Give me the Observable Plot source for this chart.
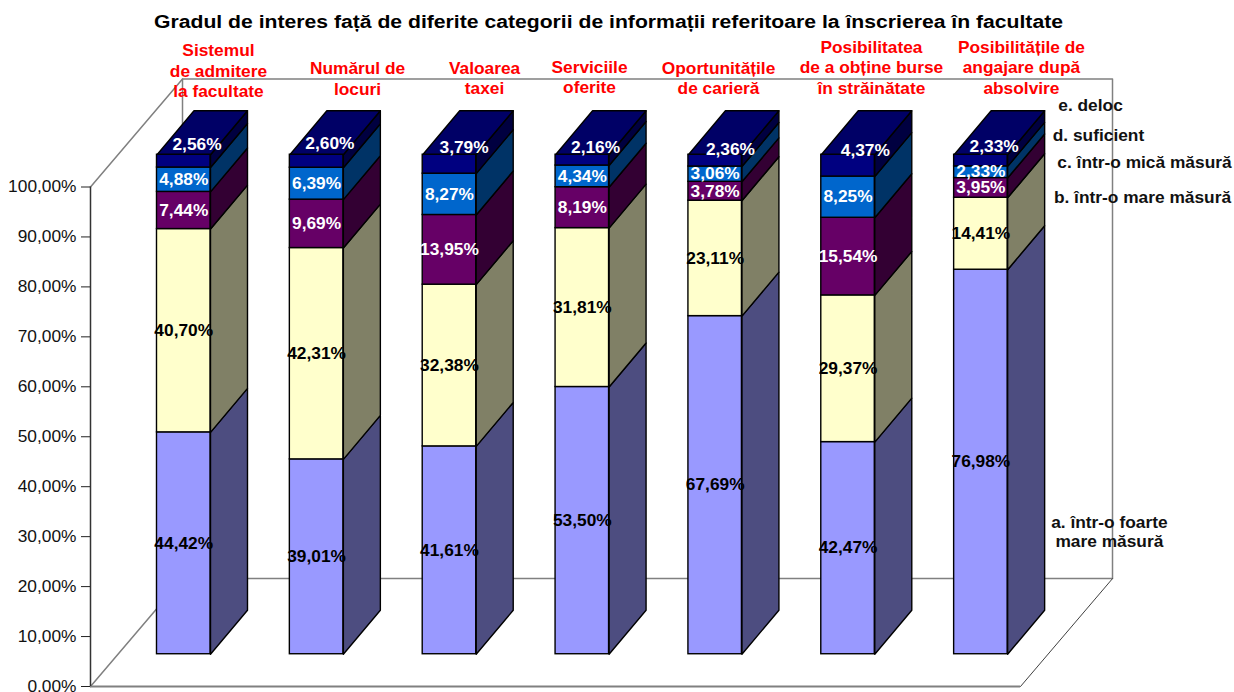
<!DOCTYPE html>
<html lang="ro">
<head>
<meta charset="utf-8">
<script src="https://cdn.jsdelivr.net/npm/d3@7"></script>
<script src="https://cdn.jsdelivr.net/npm/@observablehq/plot@0.6"></script>
<style>
html,body{margin:0;padding:0;background:#fff;overflow:hidden;width:1234px;height:692px}
#title{height:34px;font:bold 17.5px "Liberation Sans",Arial,sans-serif;color:#000;white-space:nowrap;box-sizing:border-box;padding-top:12px;padding-left:154px}
#title span{display:inline-block;transform-origin:left center}
#chart svg{display:block;overflow:visible}
</style>
</head>
<body>
<div id="title"><span>Gradul de interes față de diferite categorii de informații referitoare la înscrierea în facultate</span></div>
<div id="chart"></div>
<script>
const categories = ["Sistemul\nde admitere\nla facultate","Numărul de\nlocuri","Valoarea\ntaxei","Serviciile\noferite","Oportunitățile\nde carieră","Posibilitatea\nde a obține burse\nîn străinătate","Posibilitățile de\nangajare după\nabsolvire"];
const seriesNames = ["a. într-o foarte\nmare măsură","b. într-o mare măsură","c. într-o mică măsură","d. suficient","e. deloc"];
const seriesA = [44.42,39.01,41.61,53.50,67.69,42.47,76.98];
const seriesB = [40.70,42.31,32.38,31.81,23.11,29.37,14.41];
const seriesC = [7.44,9.69,13.95,8.19,3.78,15.54,3.95];
const seriesD = [4.88,6.39,8.27,4.34,3.06,8.25,2.33];
const seriesE = [2.56,2.60,3.79,2.16,2.36,4.37,2.33];
const tickValues = [0,10,20,30,40,50,60,70,80,90,100];

const series = [seriesA,seriesB,seriesC,seriesD,seriesE];
const frontColors = ["#9999FF","#FFFFCC","#660066","#0066CC","#000080"];
const sideColors  = ["#4D4D80","#808066","#330033","#003366","#000040"];
const topColor = "#000066";
const labelColors = ["#000","#000","#fff","#fff","#fff"];
const comma = v => v.toFixed(2).replace(".",",")+"%";

// oblique layout in scale units: x in category slots, y in percent
const barLeft=.5005, barWidth=.4027, barDx=.2785, barDy=8.8, frontLift=6.46, wallDx=.6925, wallDy=21.6;
// the "e. deloc" value labels sit on the bar tops, moved by hand in the original
const topNudgeX=[.1,.1,.11,.1,.115,.13,.1];
const topNudgeY=[3.2,3.6,3.2,2.4,2.2,3,2.8];

const fronts=[], polys=[], labels=[];
categories.forEach((c,i)=>{
  let base=0;
  const x1=i+barLeft, x2=x1+barWidth;
  series.forEach((s,k)=>{
    const v=s[i], top=base+v, y1=base+frontLift, y2=top+frontLift;
    fronts.push({x1,x2,y1,y2,fill:frontColors[k]});
    const id=`s${i}-${k}`;
    [[x2,y1],[x2+barDx,y1+barDy],[x2+barDx,y2+barDy],[x2,y2]].forEach(([x,y])=>polys.push({id,x,y,fill:sideColors[k]}));
    const isTop=k===4;
    labels.push({x:(x1+x2)/2+(isTop?topNudgeX[i]:0),y:(base+top)/2+frontLift+(isTop?topNudgeY[i]:0),text:comma(v),fill:labelColors[k]});
    base=top;
  });
  const t=100+frontLift, id=`t${i}`;
  [[x1,t],[x2,t],[x2+barDx,t+barDy],[x1+barDx,t+barDy]].forEach(([x,y])=>polys.push({id,x,y,fill:topColor}));
});

// walls of the chart box
const n=categories.length;
const backWall=[[wallDx,wallDy],[wallDx,100+wallDy],[n+wallDx,100+wallDy],[n+wallDx,wallDy]].map(([x,y])=>({x,y}));
const leftTop=[[0,100],[wallDx,100+wallDy]].map(([x,y])=>({x,y}));
const leftFloor=[[0,0],[wallDx,wallDy]].map(([x,y])=>({x,y}));
const rightFloor=[[n,0],[n+wallDx,wallDy]].map(([x,y])=>({x,y}));

// text placed by hand in the original
const catX=[.963,2.01,2.966,3.756,4.727,5.878,7.007];
const catY=[123.4,121.8,121.9,122.1,121.9,124.1,124.1];
const catLabels=categories.map((text,i)=>({text,x:catX[i],y:catY[i]}));
const serX=[7.669,7.918,7.933,7.587,7.527];
const serY=[31.1,98,105,110.4,116.4];
const serLabels=seriesNames.map((text,k)=>({text,x:serX[k],y:serY[k]}));

const plot=Plot.plot({
  width:1234,height:658,
  marginLeft:90,marginRight:214,marginTop:152.5,marginBottom:6,
  style:{background:"#fff",fontFamily:'"Liberation Sans",Arial,sans-serif',overflow:"visible"},
  x:{domain:[0,n],axis:null},
  y:{domain:[0,100],axis:null},
  color:{type:"identity"},
  marks:[
    Plot.line(backWall,{x:"x",y:"y",stroke:"#808080",strokeWidth:1.5,curve:"linear-closed"}),
    Plot.line(leftTop,{x:"x",y:"y",stroke:"#808080",strokeWidth:1.5}),
    Plot.line(leftFloor,{x:"x",y:"y",stroke:"#808080",strokeWidth:1.5}),
    Plot.line(rightFloor,{x:"x",y:"y",stroke:"#404040",strokeWidth:1}),
    Plot.ruleY([0],{x1:0,x2:n,stroke:"#808080",strokeWidth:2}),
    Plot.ruleX([0],{y1:0,y2:100,stroke:"#333",strokeWidth:1.5}),
    Plot.axisY({ticks:tickValues,tickFormat:comma,tickSize:9,tickPadding:5,fontSize:16.5,label:null,stroke:"#222",color:"#111"}),
    Plot.line(polys,{x:"x",y:"y",z:"id",fill:"fill",stroke:"#000",strokeWidth:1.4,curve:"linear-closed"}),
    Plot.rect(fronts,{x1:"x1",x2:"x2",y1:"y1",y2:"y2",fill:"fill",stroke:"#000",strokeWidth:1.4}),
    Plot.text(serLabels,{x:"x",y:"y",text:"text",fill:"#111",fontWeight:"bold",fontSize:16.5,lineHeight:1.18}),
    Plot.text(catLabels,{x:"x",y:"y",text:"text",fill:"#f00",fontWeight:"bold",fontSize:16.5,lineHeight:1.24}),
    Plot.text(labels,{x:"x",y:"y",text:"text",fill:"fill",fontWeight:"bold",fontSize:16.5})
  ]
});
document.getElementById("chart").append(plot);
// the original is slightly stretched horizontally
plot.querySelectorAll("text").forEach(t=>{
  const parts=t.querySelectorAll("tspan");
  (parts.length?parts:[t]).forEach(el=>{
    const w=el.getComputedTextLength();
    el.setAttribute("textLength",w*1.05);
    el.setAttribute("lengthAdjust","spacingAndGlyphs");
  });
});
const span=document.querySelector("#title span");
span.style.transform=`scaleX(${909/span.getBoundingClientRect().width})`;
</script>
</body>
</html>
